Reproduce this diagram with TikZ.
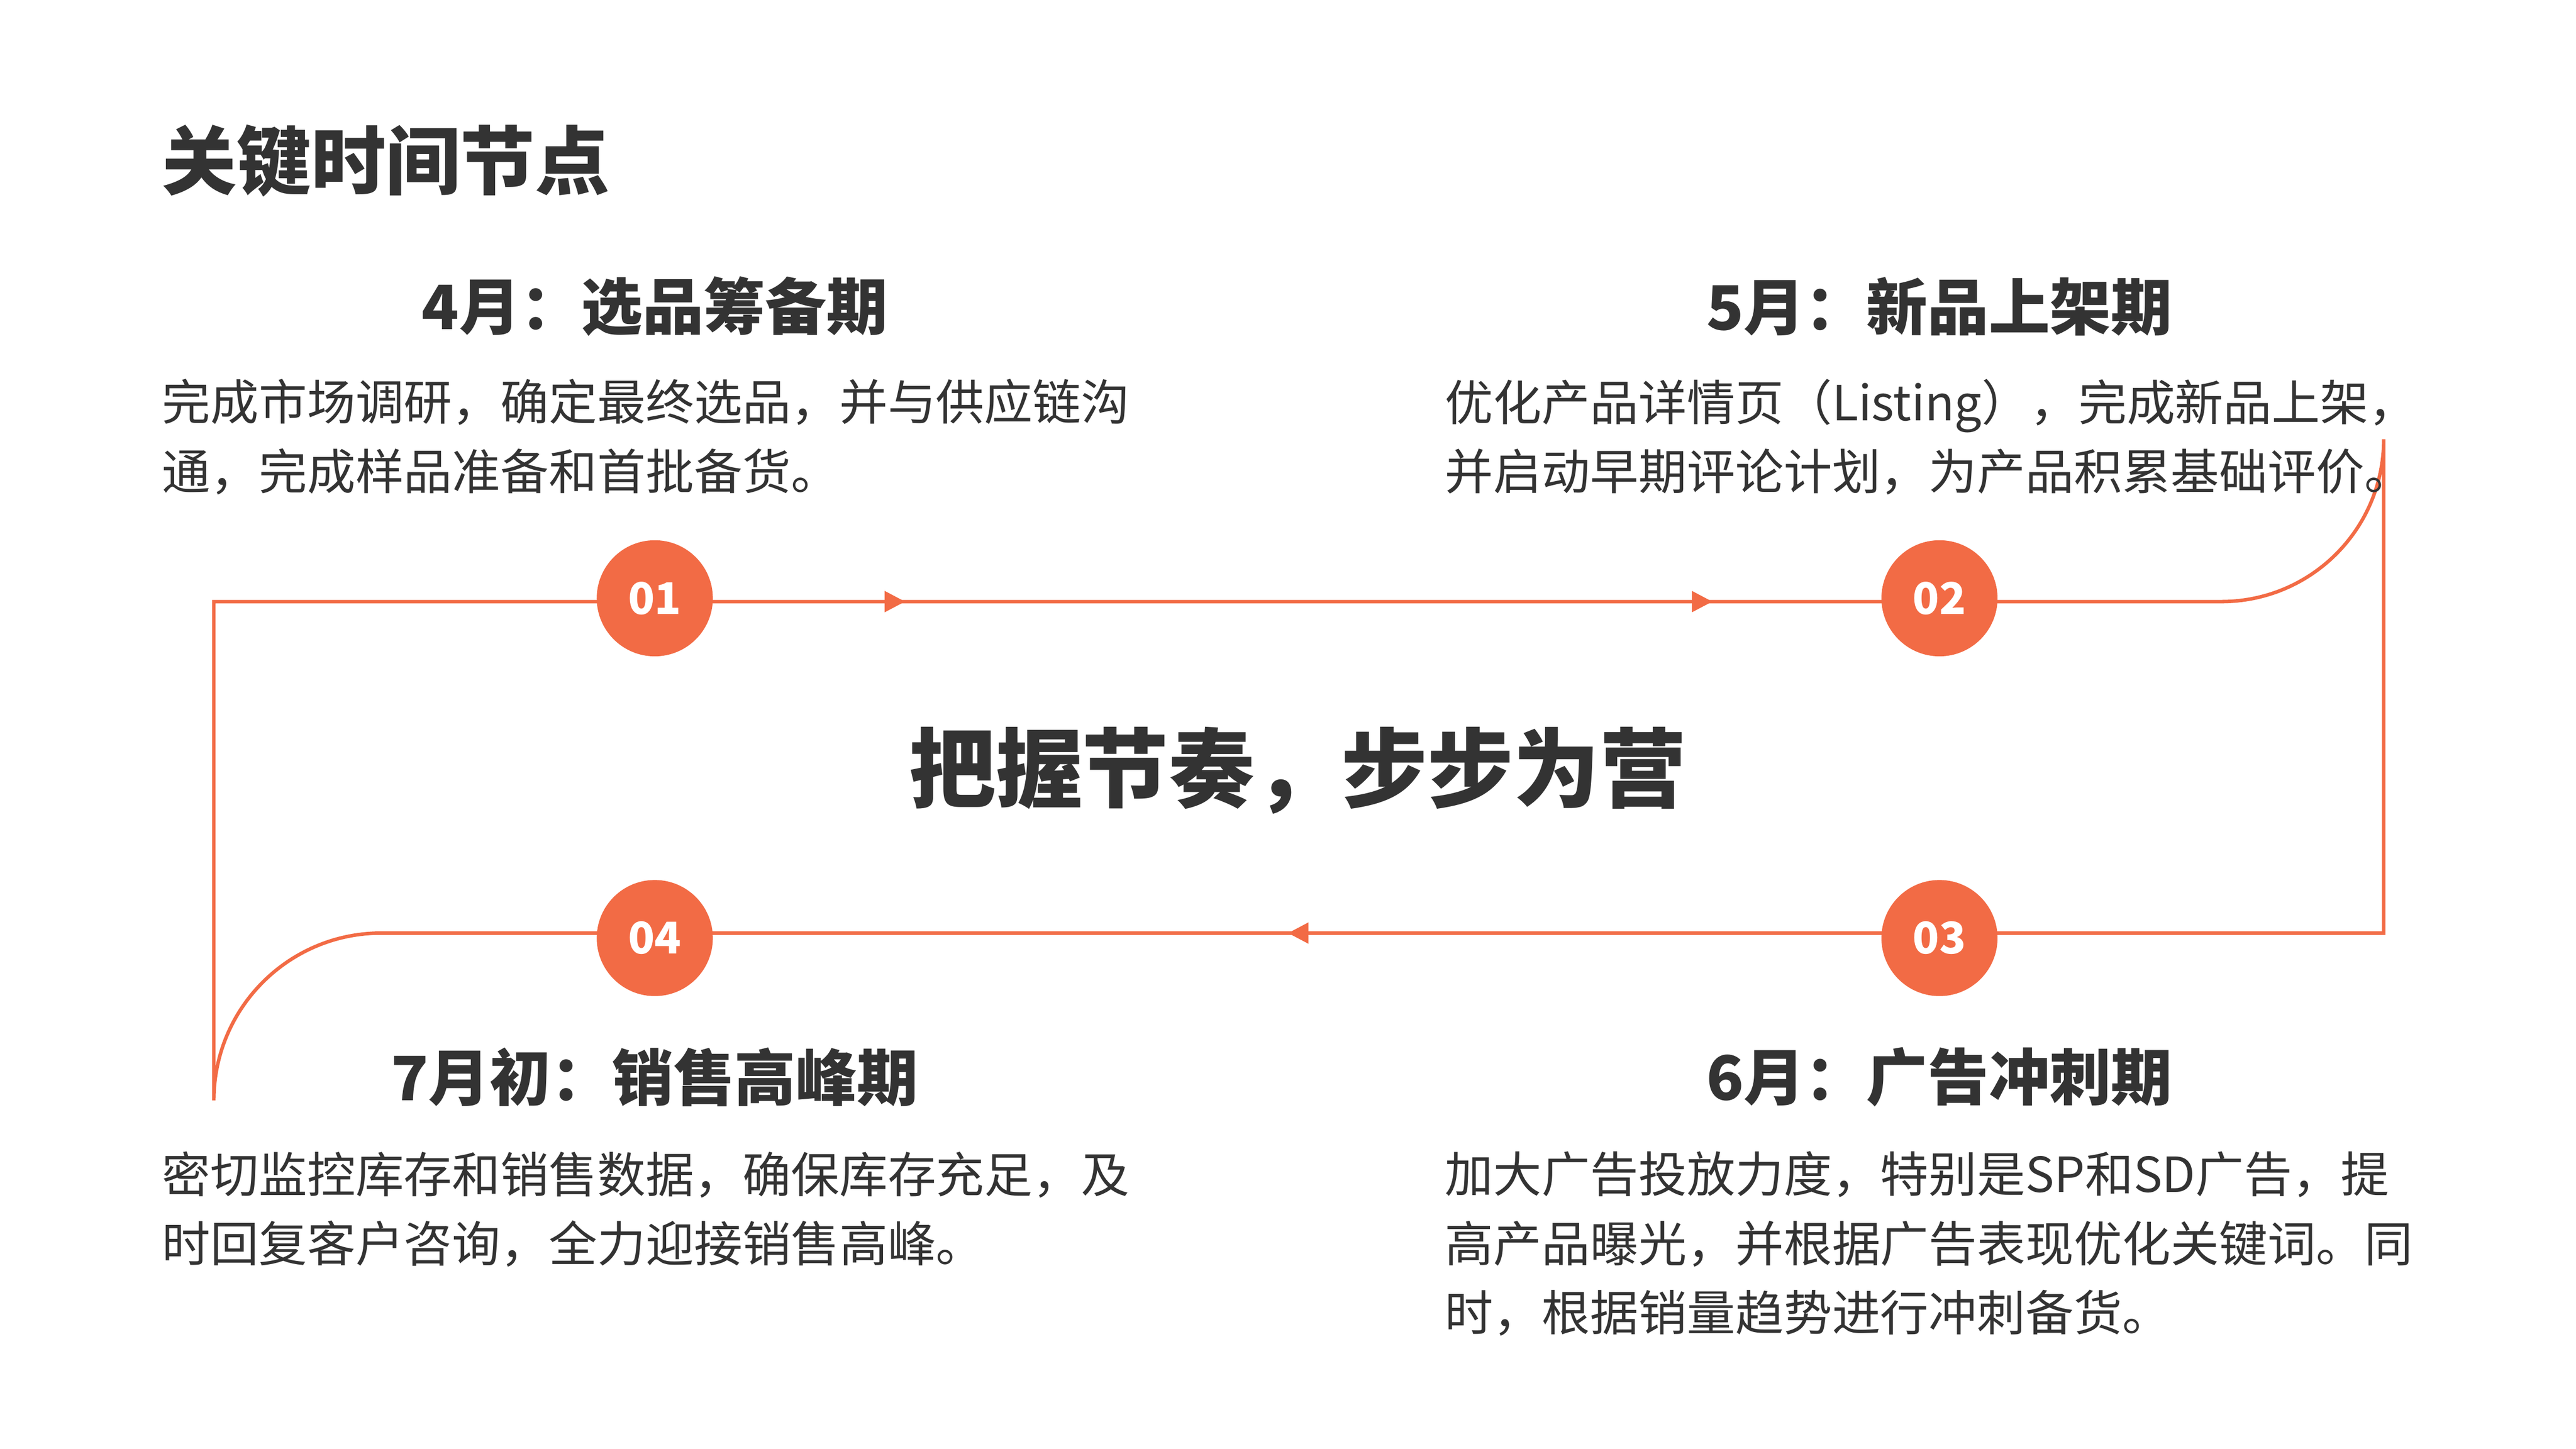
\documentclass[tikz,border=0pt]{standalone}
\usepackage{fontspec}
\setmainfont{Noto Sans CJK SC}
\usetikzlibrary{arrows.meta}
\definecolor{org}{HTML}{F26B45}
\definecolor{txt}{HTML}{333333}
\begin{document}
\begin{tikzpicture}[x=0.01cm,y=-0.01cm,
  num/.style={circle,fill=org,minimum size=0.7cm,inner sep=0,text=white,font=\fontsize{7.5}{8}\selectfont\bfseries},
  head/.style={text=txt,font=\fontsize{10.5}{12}\selectfont\bfseries,inner sep=0},
  body/.style={text=txt,font=\fontsize{8.3}{11.9}\selectfont,inner sep=0,anchor=north west,align=left},
  ln/.style={draw=org,line width=0.6pt},
  arr/.style={ln,-{Triangle[length=3.5pt,width=3.5pt]}}]
\useasboundingbox (0,0) rectangle (1554,874);
\draw[ln] (129,363) -- (1340,363) arc[start angle=90,end angle=0,radius=98] -- (1438,563) -- (230,563) arc[start angle=270,end angle=180,radius=101] -- cycle;
\coordinate (a1s) at (520,363); \coordinate (a1e) at (546,363);
\coordinate (a2s) at (1007,363); \coordinate (a2e) at (1033,363);
\coordinate (a3s) at (803,563); \coordinate (a3e) at (777,563);
\draw[arr] (a1s) -- (a1e);
\draw[arr] (a2s) -- (a2e);
\draw[arr] (a3s) -- (a3e);
\node[num] (n1) at (395,361) {01};
\node[num] (n2) at (1170,361) {02};
\node[num] (n3) at (1170,566) {03};
\node[num] (n4) at (395,566) {04};
\node[text=txt,font=\fontsize{12.8}{14}\selectfont\bfseries,anchor=west,inner sep=0] (t) at (97,97) {关键时间节点};
\node[text=txt,font=\fontsize{14.8}{16}\selectfont\bfseries,inner sep=0] (c) at (783,465) {把握节奏，步步为营};
\node[head] (h1) at (395,185) {4月：选品筹备期};
\node[head] (h2) at (1170,185) {5月：新品上架期};
\node[head] (h3) at (1170,650) {6月：广告冲刺期};
\node[head] (h4) at (395,650) {7月初：销售高峰期};
\node[body] (b1) at (97,228) {完成市场调研，确定最终选品，并与供应链沟\\通，完成样品准备和首批备货。};
\node[body] (b2) at (871,228) {优化产品详情页（Listing），完成新品上架，\\并启动早期评论计划，为产品积累基础评价。};
\node[body] (b3) at (871,694) {加大广告投放力度，特别是SP和SD广告，提\\高产品曝光，并根据广告表现优化关键词。同\\时，根据销量趋势进行冲刺备货。};
\node[body] (b4) at (97,694) {密切监控库存和销售数据，确保库存充足，及\\时回复客户咨询，全力迎接销售高峰。};
\end{tikzpicture}
\end{document}
